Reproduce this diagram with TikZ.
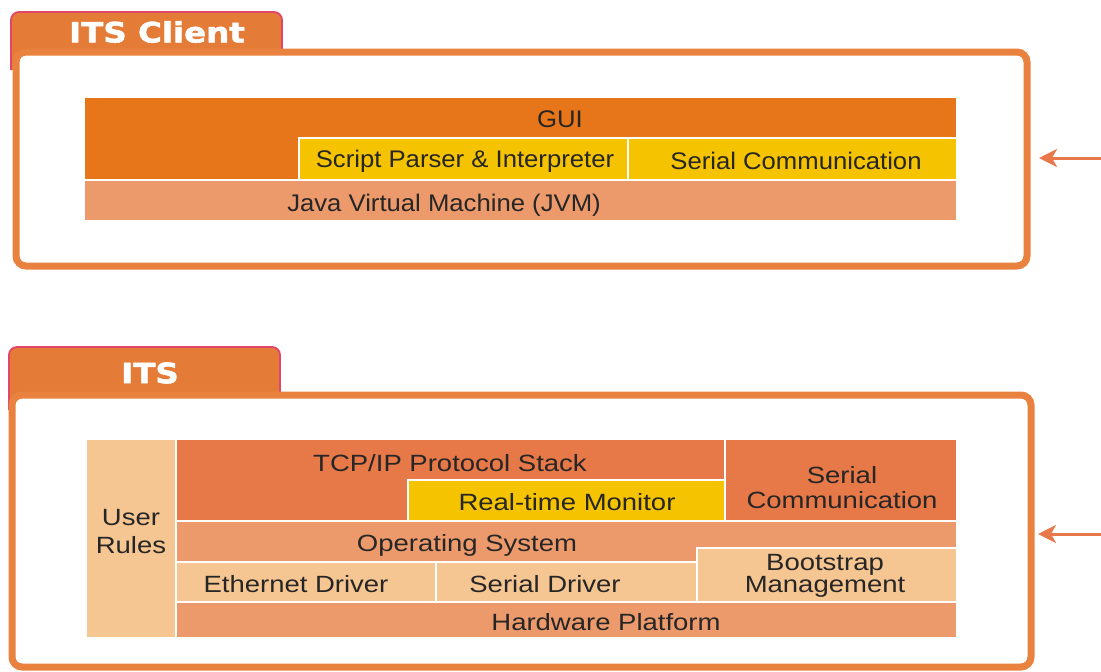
\documentclass[tikz,border=0pt]{standalone}
\usepackage{fontspec}
\setmainfont{Liberation Sans}
\newfontfamily\topfont[FakeStretch=1.07]{Liberation Sans}
\newfontfamily\botfont[FakeStretch=1.17]{Liberation Sans}
\newfontfamily\tabfont[FakeStretch=1.16,FakeBold=2]{DejaVu Sans}
\usetikzlibrary{arrows.meta}
\definecolor{tabfill}{HTML}{E47B37}
\definecolor{tabline}{HTML}{E2456A}
\definecolor{framec}{HTML}{E9823E}
\definecolor{gui}{HTML}{E67619}
\definecolor{yel}{HTML}{F5C300}
\definecolor{salmon}{HTML}{EC9A6B}
\definecolor{tcp}{HTML}{E77848}
\definecolor{light}{HTML}{F5C592}
\definecolor{txt}{HTML}{262626}
\definecolor{arrc}{HTML}{E8784A}
\tikzset{
  blk/.style={draw=white, line width=1.3pt, inner sep=0pt, outer sep=0pt, anchor=north west},
  frm/.style={draw=framec, line width=7pt, fill=white, rounded corners=10pt, inner sep=0pt, outer sep=0pt, anchor=north west},
  tabshape/.style={draw=tabline, fill=tabfill, line width=1.8pt, rounded corners=8pt},
  tabtxt/.style={text=white, inner sep=0pt, font=\tabfont\bfseries\fontsize{28}{30}\selectfont},
  tl/.style={text=txt, inner sep=0pt, font=\topfont\fontsize{24}{26}\selectfont},
  bl/.style={text=txt, inner sep=0pt, align=center, font=\botfont\fontsize{23.5}{25}\selectfont},
  arr/.style={draw=arrc, line width=3pt, -{Stealth[length=18pt,width=18pt,inset=5pt]}}
}
\begin{document}
\begin{tikzpicture}[x=1pt,y=-1pt]
\useasboundingbox (0,0) rectangle (1101,672);
% ---------- ITS Client ----------
\draw[tabshape] (11,70) |- (282,12) -- (282,70);
\node[tabtxt] (ctab) at (157,32) {ITS Client};
\node[frm, minimum width=1011pt, minimum height=214pt] (cframe) at (16,52) {};
\node[blk, fill=gui, minimum width=873pt, minimum height=83pt] (gui) at (84,97) {};
\node[blk, fill=yel, minimum width=329pt, minimum height=42pt] (spi) at (299,138) {};
\node[blk, fill=yel, minimum width=329pt, minimum height=42pt] (scc) at (628,138) {};
\node[blk, fill=salmon, minimum width=873pt, minimum height=41pt] (jvm) at (84,180) {};
\node[tl] (guil) at (560,119) {GUI};
\node[tl] (spil) at (465,161) {Script Parser \& Interpreter};
\node[tl] (sccl) at (796,161) {Serial Communication};
\node[tl] (jvml) at (444,205) {Java Virtual Machine (JVM)};
\coordinate (ca) at (1101,158);
\draw[arr, shorten >=12pt] (ca) -- (ca -| cframe.east);
% ---------- ITS ----------
\draw[tabshape] (9,410) |- (280,347) -- (280,410);
\node[tabtxt] (itab) at (150,373) {ITS};
\node[frm, minimum width=1019pt, minimum height=272pt] (iframe) at (12,395) {};
\node[blk, fill=light, minimum width=90pt, minimum height=199pt] (user) at (86,439) {};
\node[blk, fill=tcp, minimum width=549pt, minimum height=82pt] (tcpb) at (176,439) {};
\node[blk, fill=yel, minimum width=317pt, minimum height=41pt] (rtm) at (408,480) {};
\node[blk, fill=tcp, minimum width=232pt, minimum height=82pt] (sc) at (725,439) {};
\node[blk, fill=salmon, minimum width=781pt, minimum height=41pt] (os) at (176,521) {};
\node[blk, fill=light, minimum width=260pt, minimum height=40pt] (eth) at (176,562) {};
\node[blk, fill=light, minimum width=261pt, minimum height=40pt] (sdr) at (436,562) {};
\node[blk, fill=light, minimum width=260pt, minimum height=54pt] (boot) at (697,548) {};
\node[blk, fill=salmon, minimum width=781pt, minimum height=36pt] (hw) at (176,602) {};
\node[bl] (userl) at (131,532) {User\\[3pt]Rules};
\node[bl] (tcpl) at (450,463) {TCP/IP Protocol Stack};
\node[bl] (rtml) at (567,502) {Real-time Monitor};
\node[bl] (scl) at (842,488) {Serial\\Communication};
\node[bl] (osl) at (467,545) {Operating System};
\node[bl] (ethl) at (296,584) {Ethernet Driver};
\node[bl] (sdrl) at (545,584) {Serial Driver};
\node[bl, font=\botfont\fontsize{23.5}{22}\selectfont] (bootl) at (825,576) {Bootstrap\\Management};
\node[bl] (hwl) at (606,622) {Hardware Platform};
\coordinate (ia) at (1101,534);
\draw[arr, shorten >=7pt] (ia) -- (ia -| iframe.east);
\end{tikzpicture}
\end{document}
